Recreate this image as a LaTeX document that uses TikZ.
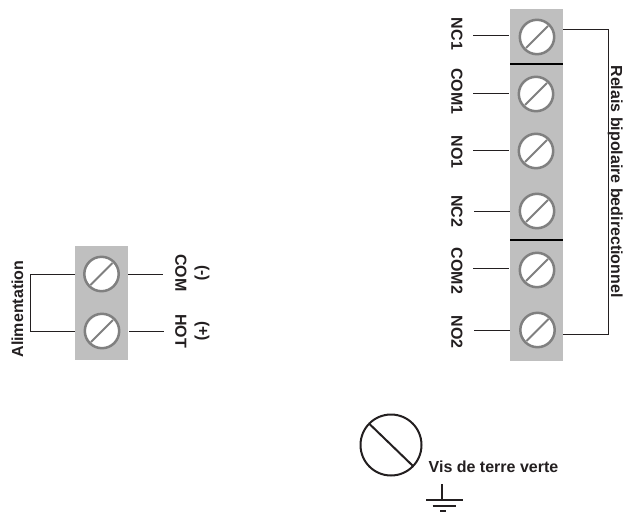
\documentclass[tikz,border=0pt]{standalone}
\usepackage{fontspec}
\setmainfont{Liberation Sans}
\definecolor{blockgray}{RGB}{191,191,191}
\definecolor{screwgray}{RGB}{128,128,128}
\definecolor{inkk}{RGB}{35,31,32}
\tikzset{
  blockbox/.style={fill=blockgray,draw=none},
  wire/.style={draw=inkk,line width=1pt},
  sep/.style={draw=black,line width=2pt},
  lab/.style={font=\fontsize{16}{18}\selectfont\bfseries,text=inkk,inner sep=0pt},
  screw/.pic={
    \draw[draw=screwgray,fill=white,line width=2.5pt] (0,0) circle (17.2pt);
    \draw[draw=screwgray,line width=2pt] (-11pt,-11pt) -- (11pt,11pt);
  }
}
\begin{document}
\begin{tikzpicture}[x=1pt,y=-1pt]
\useasboundingbox (0,0) rectangle (624,517);
% blocks
\fill[blockbox] (510,9) rectangle (563,361);
\fill[blockbox] (75,246) rectangle (128,360);
\draw[sep] (510,64) -- (563,64);
\draw[sep] (510,240) -- (563,240);
% screws
\foreach \nm/\sx/\sy in {a/537/37,b/536/94,c/536/151,d/537/211,e/537/270,f/537.5/330,g/101.5/274,h/102/331}{
  \coordinate (s\nm) at (\sx,\sy);
  \pic at (s\nm) {screw};
}
% right labels
\node[lab,rotate=-90] (nca) at (457,34) {NC1};
\node[lab,rotate=-90] (coma) at (457,91.5) {COM1};
\node[lab,rotate=-90] (noa) at (457,152) {NO1};
\node[lab,rotate=-90] (ncb) at (457,211) {NC2};
\node[lab,rotate=-90] (comb) at (457,271) {COM2};
\node[lab,rotate=-90] (nob) at (457,332) {NO2};
\node[lab,rotate=-90,anchor=base] (relais) at (611,181.5) {Relais bipolaire bedirectionnel};
% right wires
\coordinate (ea) at (473,35); \coordinate (fa) at (509,35);
\coordinate (eb) at (473,93); \coordinate (fb) at (509,93);
\coordinate (ec) at (473,150); \coordinate (fc) at (509,150);
\coordinate (ed) at (474,211); \coordinate (fd) at (510,211);
\coordinate (ee) at (473,268.5); \coordinate (fe) at (509,268.5);
\coordinate (ef) at (474,330); \coordinate (ff) at (510,330);
\draw[wire] (ea) -- (fa);
\draw[wire] (eb) -- (fb);
\draw[wire] (ec) -- (fc);
\draw[wire] (ed) -- (fd);
\draw[wire] (ee) -- (fe);
\draw[wire] (ef) -- (ff);
\coordinate (ra) at (563,29); \coordinate (rb) at (608,29);
\coordinate (rc) at (608,334); \coordinate (rd) at (563,334);
\draw[wire] (ra) -- (rb) -- (rc) -- (rd);
% left labels
\node[lab,rotate=90] (alim) at (17.5,309) {Alimentation};
\node[lab,rotate=-90] (com) at (181,273) {COM};
\node[lab,rotate=-90] (mo) at (202,273) {(-)};
\node[lab,rotate=-90] (hot) at (181,331) {HOT};
\node[lab,rotate=-90] (pl) at (202,331) {(+)};
% left wires
\coordinate (la) at (128,274); \coordinate (lb) at (163,274);
\coordinate (lc) at (129,331); \coordinate (ld) at (164,331);
\draw[wire] (la) -- (lb);
\draw[wire] (lc) -- (ld);
\coordinate (ba) at (75,274); \coordinate (bb) at (30,274);
\coordinate (bc) at (30,331); \coordinate (bd) at (75,331);
\draw[wire] (ba) -- (bb) -- (bc) -- (bd);
% ground screw
\coordinate (gs) at (391,445);
\draw[draw=inkk,line width=2pt] (gs) circle (30.5pt);
\coordinate (gs1) at (369.5,424); \coordinate (gs2) at (413,466);
\draw[draw=inkk,line width=2pt] (gs1) -- (gs2);
\node[lab,anchor=west] (vis) at (428.5,467) {Vis de terre verte};
% earth symbol
\coordinate (ga) at (442,484); \coordinate (gb) at (442,500);
\draw[draw=inkk,line width=1.3pt] (ga) -- (gb);
\coordinate (g1) at (426,500); \coordinate (g2) at (463,500);
\draw[draw=inkk,line width=1.3pt] (g1) -- (g2);
\coordinate (g3) at (432.5,506); \coordinate (g4) at (455.5,506);
\draw[draw=inkk,line width=1.3pt] (g3) -- (g4);
\coordinate (g5) at (440,511); \coordinate (g6) at (446,511);
\draw[draw=inkk,line width=1.3pt] (g5) -- (g6);
\end{tikzpicture}
\end{document}
